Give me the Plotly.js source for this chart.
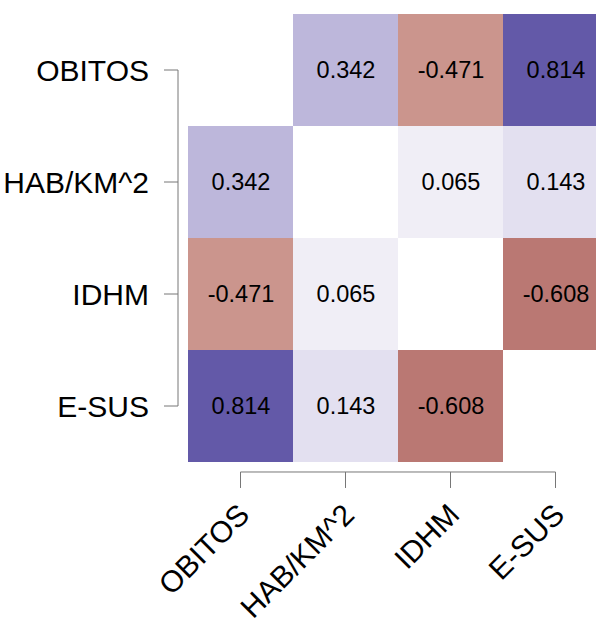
<!DOCTYPE html>
<html><head><meta charset="utf-8">
<script src="https://cdn.plot.ly/plotly-3.0.1.min.js"></script>
<style>html,body{margin:0;padding:0;background:#fff;}</style>
</head><body>
<div id="chart" style="width:596px;height:619px;"></div>
<script>
const categories = ["OBITOS", "HAB/KM^2", "IDHM", "E-SUS"];
const rowOBITOS = [null, 0.342, -0.471, 0.814];
const rowHAB = [0.342, null, 0.065, 0.143];
const rowIDHM = [-0.471, 0.065, null, -0.608];
const rowESUS = [0.814, 0.143, -0.608, null];
const zRows = [rowOBITOS, rowHAB, rowIDHM, rowESUS];

const idx = categories.map((c, i) => i);
const textRows = zRows.map(r => r.map(v => v === null ? "" : v.toFixed(3)));

const colorscale = [
  [0.0, "rgb(150,70,68)"],
  [(1 - 0.608) / 2, "rgb(186,120,115)"],
  [(1 - 0.471) / 2, "rgb(203,149,141)"],
  [0.5, "rgb(255,255,255)"],
  [(1 + 0.065) / 2, "rgb(240,238,246)"],
  [(1 + 0.143) / 2, "rgb(227,224,240)"],
  [(1 + 0.342) / 2, "rgb(189,183,219)"],
  [(1 + 0.814) / 2, "rgb(99,89,168)"],
  [1.0, "rgb(80,68,155)"]
];

const trace = {
  type: "heatmap",
  x: idx,
  y: idx,
  z: zRows,
  text: textRows,
  texttemplate: "%{text}",
  textfont: {family: "Liberation Sans, Arial, sans-serif", size: 23.5, color: "#000"},
  colorscale: colorscale,
  zmin: -1, zmax: 1,
  showscale: false,
  hoverongaps: false,
  xgap: 0, ygap: 0
};

const lineColor = "#777";
const n = categories.length;
const shapes = [];
// y axis line (R style, from first to last tick)
shapes.push({type: "line", xref: "paper", yref: "y", x0: -0.0245, x1: -0.0245, y0: 0, y1: n - 1, line: {color: lineColor, width: 1}});
idx.forEach(i => shapes.push({type: "line", xref: "paper", yref: "y", x0: -0.0588, x1: -0.0245, y0: i, y1: i, line: {color: lineColor, width: 1}}));
// x axis line
shapes.push({type: "line", xref: "x", yref: "paper", x0: 0, x1: n - 1, y0: -0.0223, y1: -0.0223, line: {color: lineColor, width: 1}});
idx.forEach(i => shapes.push({type: "line", xref: "x", yref: "paper", x0: i, x1: i, y0: -0.0223, y1: -0.058, line: {color: lineColor, width: 1}}));

const layout = {
  width: 596, height: 619,
  margin: {l: 188, r: 0, t: 14, b: 157, pad: 0},
  paper_bgcolor: "#fff", plot_bgcolor: "#fff",
  font: {family: "Liberation Sans, Arial, sans-serif", color: "#000"},
  xaxis: {
    range: [-0.5, -0.5 + 408 / 105],
    tickvals: idx, ticktext: categories,
    tickangle: -45, ticks: "", showline: false, showgrid: false, zeroline: false,
    tickfont: {size: 30, color: "#000"},
    ticklabelstandoff: 28
  },
  yaxis: {
    range: [n - 0.5, -0.5],
    tickvals: idx, ticktext: categories,
    ticks: "", showline: false, showgrid: false, zeroline: false,
    tickfont: {size: 30, color: "#000"},
    ticklabelstandoff: 38
  },
  shapes: shapes,
  showlegend: false
};

Plotly.newPlot("chart", [trace], layout, {displayModeBar: false, staticPlot: true});
</script>
</body></html>
